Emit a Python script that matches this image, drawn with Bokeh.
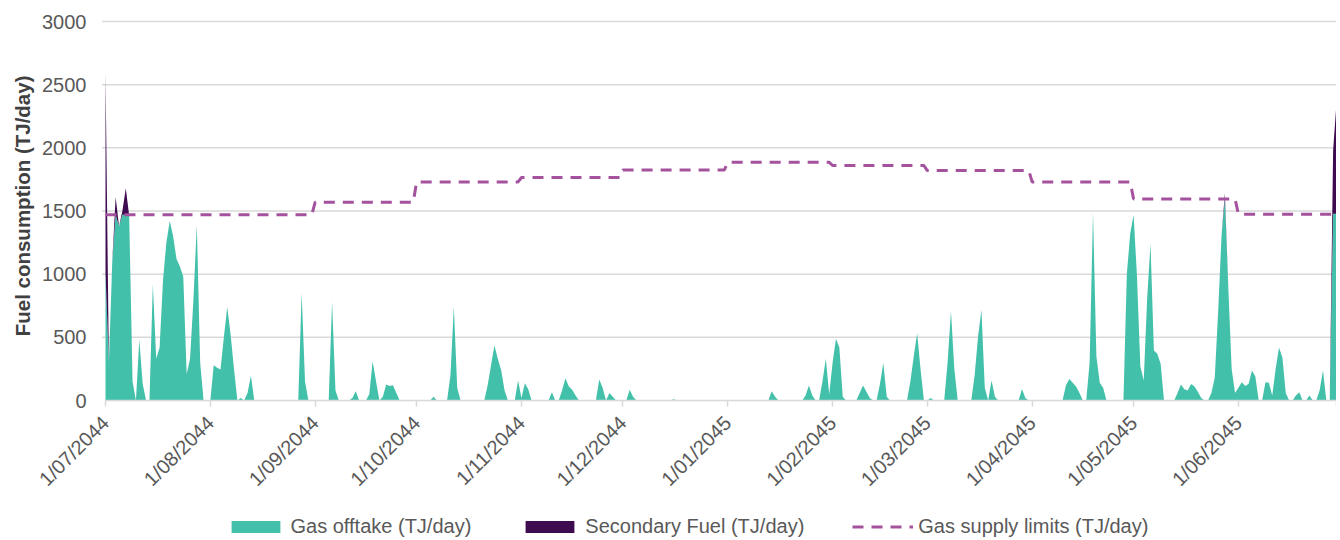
import numpy as np
import pandas as pd
from math import pi
from bokeh.plotting import figure
from bokeh.models import FixedTicker, Legend, LegendItem, Range1d, Title
from bokeh.embed import file_html
from bokeh.resources import INLINE

# ---------------- data ----------------
dates = pd.date_range("2044-07-01", "2045-06-30", freq="D")
month_starts = pd.date_range("2044-07-01", "2045-06-01", freq="MS")
tick_labels = [f"{d.day}/{d.month:02d}/{d.year}" for d in month_starts]
y_ticks = [0, 500, 1000, 1500, 2000, 2500, 3000]

# Gas supply limit per month (TJ/day), Jul-2044 .. Jun-2045
supply_limit_by_month = [1470, 1470, 1570, 1730, 1765, 1825, 1885, 1860, 1820, 1730, 1595, 1475]

# Gas offtake (TJ/day) by day index from 1/07/2044 (days not listed are 0)
gas_offtake = {
    0: 1000, 1: 300, 2: 1100, 3: 1470, 4: 1380, 5: 1470, 6: 1470, 7: 1465, 8: 150,
    10: 480, 11: 130, 14: 920, 15: 330, 16: 420, 17: 950, 18: 1250, 19: 1420, 20: 1300,
    21: 1120, 22: 1060, 23: 980, 24: 210, 25: 330, 26: 800, 27: 1390, 28: 300,
    32: 280, 33: 260, 34: 245, 35: 500, 36: 740, 37: 520, 38: 250, 40: 20, 42: 60, 43: 195,
    58: 850, 59: 150, 67: 780, 68: 80, 73: 20, 74: 74, 78: 50, 79: 310, 80: 150,
    82: 30, 83: 127, 84: 115, 85: 120, 86: 60, 97: 30,
    102: 200, 103: 740, 104: 100, 113: 120, 114: 280, 115: 435, 116: 330, 117: 240, 118: 80,
    122: 158, 123: 20, 124: 137, 125: 90, 132: 66, 135: 80, 136: 177, 137: 110, 138: 85, 139: 40,
    146: 166, 147: 100, 149: 60, 150: 30, 155: 85, 156: 30, 168: 10,
    197: 74, 198: 30, 207: 40, 208: 119, 209: 40, 212: 150, 213: 330, 214: 50, 215: 300,
    216: 488, 217: 420, 218: 30, 223: 60, 224: 119, 225: 70, 226: 20, 229: 130, 230: 296, 231: 30,
    238: 150, 239: 350, 240: 533, 241: 250, 244: 20, 249: 300, 250: 707, 251: 250,
    257: 200, 258: 500, 259: 718, 260: 100, 262: 158, 263: 30, 271: 92, 272: 20,
    284: 120, 285: 170, 286: 140, 287: 110, 288: 60, 291: 300, 292: 1490, 293: 350, 294: 140, 295: 100,
    302: 1000, 303: 1320, 304: 1470, 305: 985, 306: 270, 307: 158, 308: 800, 309: 1240, 310: 396,
    311: 370, 312: 290, 317: 60, 318: 127, 319: 90, 320: 80, 321: 130, 322: 110, 323: 70, 324: 20,
    327: 60, 328: 180, 329: 700, 330: 1300, 331: 1595, 332: 900, 333: 250, 334: 60, 335: 100,
    336: 145, 337: 115, 338: 130, 339: 237, 340: 190, 343: 145, 344: 140, 345: 40, 346: 250,
    347: 420, 348: 340, 349: 60, 352: 40, 353: 66, 356: 40, 359: 80, 360: 237,
    363: 1478, 364: 1478,
}

# Secondary fuel (TJ/day) by day index (days not listed are 0)
secondary_fuel = {0: 1600, 3: 140, 5: 30, 6: 210, 331: 45, 363: 500, 364: 880}

series_names = ["Gas offtake (TJ/day)", "Secondary Fuel (TJ/day)", "Gas supply limits (TJ/day)"]
y_title = "Fuel consumption (TJ/day)"

# ---------------- build arrays ----------------
n = len(dates)
day = np.arange(n)
gas = np.zeros(n)
for k, v in gas_offtake.items():
    gas[k] = v
sec = np.zeros(n)
for k, v in secondary_fuel.items():
    sec[k] = v
month_idx = (dates.year - 2044) * 12 + dates.month - 7
limit = np.array(supply_limit_by_month)[month_idx]
tick_days = [int((m - dates[0]).days) for m in month_starts]
last_day = n - 1

FONT = "Liberation Sans"
TXT = "#595959"
GRID = "#d9d9d9"

# layout (pixels)
W, H = 1336, 540
FRAME_LEFT = 36          # frame starts here so the first date label is not clipped
DATA_LEFT = 105          # x position of 1/07/2044
TOP, ZERO_Y = 21, 400    # y positions of 3000 and 0
Y_MAX = 3000
px_per_day = (W - DATA_LEFT) / last_day
x_min = -(DATA_LEFT - FRAME_LEFT) / px_per_day
val_per_px = Y_MAX / (ZERO_Y - TOP)
y_min = -(H - ZERO_Y) * val_per_px
y_max = Y_MAX + TOP * val_per_px

p = figure(width=W, height=H, output_backend="svg", toolbar_location=None,
           x_range=Range1d(x_min, last_day), y_range=Range1d(y_min, y_max),
           min_border_left=FRAME_LEFT, min_border_right=0, min_border_top=0, min_border_bottom=0)
p.outline_line_color = None
p.background_fill_color = "white"
p.xgrid.grid_line_color = None
p.ygrid.grid_line_color = None

# horizontal gridlines over the data span only
grid_vals = y_ticks[1:]
p.segment(x0=[-1] * len(grid_vals), x1=[last_day] * len(grid_vals), y0=grid_vals, y1=grid_vals,
          line_color=GRID, line_width=1.5)

a1 = p.varea(x=day, y1=np.zeros(n), y2=gas, fill_color="#42C0AA")
a2 = p.varea(x=day, y1=gas, y2=gas + sec, fill_color="#3E0B51")
l1 = p.line(day, limit, line_color="#A5529E", line_width=3, line_dash="11 8")

# y axis pinned at day 0
p.yaxis.fixed_location = 0
p.yaxis.ticker = FixedTicker(ticks=y_ticks)
p.yaxis.axis_line_color = None
p.yaxis.major_tick_line_color = None
p.yaxis.minor_tick_line_color = None
p.yaxis.major_tick_out = 0
p.yaxis.major_tick_in = 0
p.yaxis.major_label_standoff = 19
p.yaxis.major_label_text_font = FONT
p.yaxis.major_label_text_font_size = "20px"
p.yaxis.major_label_text_color = TXT

title = Title(text=y_title, align="right", offset=75, standoff=6,
              text_font=FONT, text_font_size="20.5px", text_font_style="bold",
              text_color="#404040")
p.add_layout(title, "left")

# x axis pinned at y = 0
p.xaxis.fixed_location = 0
p.xaxis.bounds = (0, last_day)
p.xaxis.ticker = FixedTicker(ticks=tick_days + [last_day])
overrides = {d: lab for d, lab in zip(tick_days, tick_labels)}
overrides[last_day] = ""
p.xaxis.major_label_overrides = overrides
p.xaxis.major_label_orientation = pi / 4
p.xaxis.major_label_standoff = 13
p.xaxis.major_label_text_font = FONT
p.xaxis.major_label_text_font_size = "20px"
p.xaxis.major_label_text_color = TXT
p.xaxis.axis_line_color = GRID
p.xaxis.axis_line_width = 1.5
p.xaxis.major_tick_line_color = GRID
p.xaxis.major_tick_line_width = 1.5
p.xaxis.major_tick_out = 6
p.xaxis.major_tick_in = 0
p.xaxis.minor_tick_line_color = None

legend = Legend(items=[LegendItem(label=series_names[0], renderers=[a1]),
                       LegendItem(label=series_names[1], renderers=[a2]),
                       LegendItem(label=series_names[2], renderers=[l1])],
                orientation="horizontal", location=(224.5 - FRAME_LEFT, 2),
                padding=0, margin=0, spacing=48, label_standoff=5,
                glyph_width=61, glyph_height=15, label_height=20,
                label_text_font=FONT, label_text_font_size="20px", label_text_color=TXT,
                border_line_color=None, background_fill_alpha=0)
p.add_layout(legend, "center")

open("out.html", "w").write(file_html(p, INLINE))
